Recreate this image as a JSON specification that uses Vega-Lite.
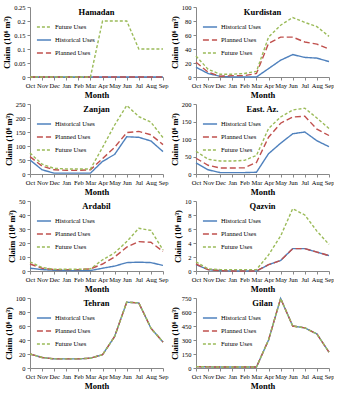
{
"$schema":"https://vega.github.io/schema/vega-lite/v6.json",
"padding":{"left":2,"top":4,"right":0,"bottom":0},
"background":"white",
"config":{
 "font":"Liberation Serif",
 "view":{"stroke":null},
 "axis":{"grid":false,"domainColor":"#888","tickColor":"#888","tickSize":3,"labelFontSize":6.5,"labelColor":"#000","titleFontSize":8.5,"titleFontWeight":"bold","titleColor":"#000","labelPadding":2,"titlePadding":2},
 "axisX":{"labelAngle":0,"labelOverlap":false},
 "title":{"fontSize":8.5,"fontWeight":"bold","offset":-12,"anchor":"middle","color":"#000"},
 "legend":{"labelFontSize":6.5,"symbolType":"stroke","symbolSize":200,"symbolStrokeWidth":1.4,"rowPadding":1,"padding":0,"labelOffset":3,"title":null},
 "line":{"strokeWidth":1.4},
 "concat":{"spacing":2}
},
"data":{"values":[
{"p":"Hamadan","m":"Oct","H":0,"P":0,"F":0},{"p":"Hamadan","m":"Nov","H":0,"P":0,"F":0},{"p":"Hamadan","m":"Dec","H":0,"P":0,"F":0},{"p":"Hamadan","m":"Jan","H":0,"P":0,"F":0},{"p":"Hamadan","m":"Feb","H":0,"P":0,"F":0},{"p":"Hamadan","m":"Mar","H":0,"P":0,"F":0},{"p":"Hamadan","m":"Apr","H":0,"P":0,"F":0.2},{"p":"Hamadan","m":"May","H":0,"P":0,"F":0.2},{"p":"Hamadan","m":"Jun","H":0,"P":0,"F":0.2},{"p":"Hamadan","m":"Jul","H":0,"P":0,"F":0.1},{"p":"Hamadan","m":"Aug","H":0,"P":0,"F":0.1},{"p":"Hamadan","m":"Sep","H":0,"P":0,"F":0.1},
{"p":"Kurdistan","m":"Oct","H":14,"P":21,"F":30},{"p":"Kurdistan","m":"Nov","H":5,"P":7,"F":11},{"p":"Kurdistan","m":"Dec","H":1,"P":1,"F":4},{"p":"Kurdistan","m":"Jan","H":0,"P":2,"F":4},{"p":"Kurdistan","m":"Feb","H":0,"P":2,"F":5},{"p":"Kurdistan","m":"Mar","H":0,"P":5,"F":8},{"p":"Kurdistan","m":"Apr","H":12,"P":48,"F":57},{"p":"Kurdistan","m":"May","H":24,"P":57,"F":74},{"p":"Kurdistan","m":"Jun","H":32,"P":57,"F":85},{"p":"Kurdistan","m":"Jul","H":28,"P":50,"F":78},{"p":"Kurdistan","m":"Aug","H":27,"P":47,"F":72},{"p":"Kurdistan","m":"Sep","H":22,"P":40,"F":58},
{"p":"Zanjan","m":"Oct","H":50,"P":62,"F":75},{"p":"Zanjan","m":"Nov","H":15,"P":28,"F":35},{"p":"Zanjan","m":"Dec","H":3,"P":15,"F":20},{"p":"Zanjan","m":"Jan","H":3,"P":13,"F":18},{"p":"Zanjan","m":"Feb","H":3,"P":13,"F":18},{"p":"Zanjan","m":"Mar","H":3,"P":15,"F":18},{"p":"Zanjan","m":"Apr","H":45,"P":55,"F":95},{"p":"Zanjan","m":"May","H":70,"P":95,"F":175},{"p":"Zanjan","m":"Jun","H":133,"P":148,"F":245},{"p":"Zanjan","m":"Jul","H":131,"P":152,"F":205},{"p":"Zanjan","m":"Aug","H":118,"P":140,"F":185},{"p":"Zanjan","m":"Sep","H":80,"P":105,"F":130},
{"p":"East Az.","m":"Oct","H":32,"P":45,"F":65},{"p":"East Az.","m":"Nov","H":12,"P":25,"F":42},{"p":"East Az.","m":"Dec","H":4,"P":17,"F":37},{"p":"East Az.","m":"Jan","H":4,"P":17,"F":37},{"p":"East Az.","m":"Feb","H":4,"P":18,"F":39},{"p":"East Az.","m":"Mar","H":5,"P":33,"F":53},{"p":"East Az.","m":"Apr","H":58,"P":105,"F":130},{"p":"East Az.","m":"May","H":88,"P":145,"F":163},{"p":"East Az.","m":"Jun","H":115,"P":163,"F":183},{"p":"East Az.","m":"Jul","H":120,"P":165,"F":188},{"p":"East Az.","m":"Aug","H":95,"P":128,"F":160},{"p":"East Az.","m":"Sep","H":78,"P":110,"F":130},
{"p":"Ardabil","m":"Oct","H":2,"P":5,"F":6.5},{"p":"Ardabil","m":"Nov","H":1,"P":2,"F":2.5},{"p":"Ardabil","m":"Dec","H":0.5,"P":1,"F":1.2},{"p":"Ardabil","m":"Jan","H":0.3,"P":1,"F":1.2},{"p":"Ardabil","m":"Feb","H":0.3,"P":1,"F":1.2},{"p":"Ardabil","m":"Mar","H":0.3,"P":1.5,"F":1.5},{"p":"Ardabil","m":"Apr","H":2,"P":5,"F":8},{"p":"Ardabil","m":"May","H":3.5,"P":10,"F":13},{"p":"Ardabil","m":"Jun","H":6,"P":17,"F":21},{"p":"Ardabil","m":"Jul","H":6.3,"P":21,"F":30.5},{"p":"Ardabil","m":"Aug","H":6,"P":20.5,"F":29},{"p":"Ardabil","m":"Sep","H":4,"P":14,"F":15},
{"p":"Qazvin","m":"Oct","H":0.9,"P":1.0,"F":1.3},{"p":"Qazvin","m":"Nov","H":0.2,"P":0.2,"F":0.3},{"p":"Qazvin","m":"Dec","H":0.05,"P":0.05,"F":0.2},{"p":"Qazvin","m":"Jan","H":0,"P":0,"F":0.2},{"p":"Qazvin","m":"Feb","H":0,"P":0,"F":0.2},{"p":"Qazvin","m":"Mar","H":0,"P":0,"F":0.2},{"p":"Qazvin","m":"Apr","H":0.9,"P":0.9,"F":2.3},{"p":"Qazvin","m":"May","H":1.5,"P":1.5,"F":5},{"p":"Qazvin","m":"Jun","H":3.2,"P":3.2,"F":8.9},{"p":"Qazvin","m":"Jul","H":3.2,"P":3.2,"F":8},{"p":"Qazvin","m":"Aug","H":2.7,"P":2.7,"F":5.7},{"p":"Qazvin","m":"Sep","H":2.2,"P":2.2,"F":3.8},
{"p":"Tehran","m":"Oct","H":20,"P":20,"F":20},{"p":"Tehran","m":"Nov","H":15,"P":15,"F":15},{"p":"Tehran","m":"Dec","H":13,"P":13,"F":13},{"p":"Tehran","m":"Jan","H":13,"P":13,"F":13},{"p":"Tehran","m":"Feb","H":13,"P":13,"F":13},{"p":"Tehran","m":"Mar","H":14,"P":14,"F":14},{"p":"Tehran","m":"Apr","H":19,"P":19,"F":19},{"p":"Tehran","m":"May","H":45,"P":45,"F":45},{"p":"Tehran","m":"Jun","H":94,"P":94,"F":94},{"p":"Tehran","m":"Jul","H":93,"P":93,"F":93},{"p":"Tehran","m":"Aug","H":57,"P":57,"F":57},{"p":"Tehran","m":"Sep","H":37,"P":37,"F":37},
{"p":"Gilan","m":"Oct","H":15,"P":15,"F":15},{"p":"Gilan","m":"Nov","H":12,"P":12,"F":12},{"p":"Gilan","m":"Dec","H":10,"P":10,"F":10},{"p":"Gilan","m":"Jan","H":10,"P":10,"F":10},{"p":"Gilan","m":"Feb","H":10,"P":10,"F":10},{"p":"Gilan","m":"Mar","H":10,"P":10,"F":10},{"p":"Gilan","m":"Apr","H":300,"P":300,"F":300},{"p":"Gilan","m":"May","H":745,"P":745,"F":745},{"p":"Gilan","m":"Jun","H":450,"P":450,"F":450},{"p":"Gilan","m":"Jul","H":430,"P":430,"F":430},{"p":"Gilan","m":"Aug","H":365,"P":365,"F":365},{"p":"Gilan","m":"Sep","H":170,"P":170,"F":170}
]},
"transform":[{"fold":["H","P","F"],"as":["s","v"]}],
"columns":2,
"resolve":{"scale":{"color":"independent","strokeDash":"independent","y":"independent","x":"independent"},"legend":{"color":"independent","strokeDash":"independent"}},
"concat":[
{"width":133,"height":70,"title":"Hamadan","transform":[{"filter":"datum.p === 'Hamadan'"}],"mark":"line",
 "encoding":{"x":{"field":"m","type":"ordinal","sort":["Oct","Nov","Dec","Jan","Feb","Mar","Apr","May","Jun","Jul","Aug","Sep"],"scale":{"type":"point","padding":0},"title":"Month"},
 "y":{"field":"v","type":"quantitative","scale":{"domain":[0,0.25]},"axis":{"values":[0,0.05,0.1,0.15,0.2,0.25],"format":"~g"},"title":"Claim (10⁶ m³)"},
 "color":{"field":"s","type":"nominal","scale":{"domain":["F","H","P"],"range":["#9BBB59","#4F81BD","#C0504D"]},"legend":{"orient":"none","legendX":6,"legendY":12,"labelExpr":"{'H':'Historical Uses','P':'Planned Uses','F':'Future Uses'}[datum.label]"}},
 "strokeDash":{"field":"s","type":"nominal","scale":{"domain":["F","H","P"],"range":[[3,2],[1,0],[6,3]]}}}},
{"width":133,"height":70,"title":"Kurdistan","transform":[{"filter":"datum.p === 'Kurdistan'"}],"mark":"line",
 "encoding":{"x":{"field":"m","type":"ordinal","sort":["Oct","Nov","Dec","Jan","Feb","Mar","Apr","May","Jun","Jul","Aug","Sep"],"scale":{"type":"point","padding":0},"title":"Month"},
 "y":{"field":"v","type":"quantitative","scale":{"domain":[0,100]},"axis":{"values":[0,20,40,60,80,100]},"title":"Claim (10⁶ m³)"},
 "color":{"field":"s","type":"nominal","scale":{"domain":["H","P","F"],"range":["#4F81BD","#C0504D","#9BBB59"]},"legend":{"orient":"none","legendX":6,"legendY":12,"labelExpr":"{'H':'Historical Uses','P':'Planned Uses','F':'Future Uses'}[datum.label]"}},
 "strokeDash":{"field":"s","type":"nominal","scale":{"domain":["H","P","F"],"range":[[1,0],[6,3],[3,2]]}}}},
{"width":133,"height":70,"title":"Zanjan","transform":[{"filter":"datum.p === 'Zanjan'"}],"mark":"line",
 "encoding":{"x":{"field":"m","type":"ordinal","sort":["Oct","Nov","Dec","Jan","Feb","Mar","Apr","May","Jun","Jul","Aug","Sep"],"scale":{"type":"point","padding":0},"title":"Month"},
 "y":{"field":"v","type":"quantitative","scale":{"domain":[0,250]},"axis":{"values":[0,50,100,150,200,250]},"title":"Claim (10⁶ m³)"},
 "color":{"field":"s","type":"nominal","scale":{"domain":["H","P","F"],"range":["#4F81BD","#C0504D","#9BBB59"]},"legend":{"orient":"none","legendX":6,"legendY":12,"labelExpr":"{'H':'Historical Uses','P':'Planned Uses','F':'Future Uses'}[datum.label]"}},
 "strokeDash":{"field":"s","type":"nominal","scale":{"domain":["H","P","F"],"range":[[1,0],[6,3],[3,2]]}}}},
{"width":133,"height":70,"title":"East. Az.","transform":[{"filter":"datum.p === 'East Az.'"}],"mark":"line",
 "encoding":{"x":{"field":"m","type":"ordinal","sort":["Oct","Nov","Dec","Jan","Feb","Mar","Apr","May","Jun","Jul","Aug","Sep"],"scale":{"type":"point","padding":0},"title":"Month"},
 "y":{"field":"v","type":"quantitative","scale":{"domain":[0,200]},"axis":{"values":[0,50,100,150,200]},"title":"Claim (10⁶ m³)"},
 "color":{"field":"s","type":"nominal","scale":{"domain":["H","P","F"],"range":["#4F81BD","#C0504D","#9BBB59"]},"legend":{"orient":"none","legendX":6,"legendY":12,"labelExpr":"{'H':'Historical Uses','P':'Planned Uses','F':'Future Uses'}[datum.label]"}},
 "strokeDash":{"field":"s","type":"nominal","scale":{"domain":["H","P","F"],"range":[[1,0],[6,3],[3,2]]}}}},
{"width":133,"height":70,"title":"Ardabil","transform":[{"filter":"datum.p === 'Ardabil'"}],"mark":"line",
 "encoding":{"x":{"field":"m","type":"ordinal","sort":["Oct","Nov","Dec","Jan","Feb","Mar","Apr","May","Jun","Jul","Aug","Sep"],"scale":{"type":"point","padding":0},"title":"Month"},
 "y":{"field":"v","type":"quantitative","scale":{"domain":[0,50]},"axis":{"values":[0,10,20,30,40,50]},"title":"Claim (10⁶ m³)"},
 "color":{"field":"s","type":"nominal","scale":{"domain":["H","P","F"],"range":["#4F81BD","#C0504D","#9BBB59"]},"legend":{"orient":"none","legendX":6,"legendY":12,"labelExpr":"{'H':'Historical Uses','P':'Planned Uses','F':'Future Uses'}[datum.label]"}},
 "strokeDash":{"field":"s","type":"nominal","scale":{"domain":["H","P","F"],"range":[[1,0],[6,3],[3,2]]}}}},
{"width":133,"height":70,"title":"Qazvin","transform":[{"filter":"datum.p === 'Qazvin'"}],"mark":"line",
 "encoding":{"x":{"field":"m","type":"ordinal","sort":["Oct","Nov","Dec","Jan","Feb","Mar","Apr","May","Jun","Jul","Aug","Sep"],"scale":{"type":"point","padding":0},"title":"Month"},
 "y":{"field":"v","type":"quantitative","scale":{"domain":[0,10]},"axis":{"values":[0,2,4,6,8,10]},"title":"Claim (10⁶ m³)"},
 "color":{"field":"s","type":"nominal","scale":{"domain":["H","P","F"],"range":["#4F81BD","#C0504D","#9BBB59"]},"legend":{"orient":"none","legendX":6,"legendY":12,"labelExpr":"{'H':'Historical Uses','P':'Planned Uses','F':'Future Uses'}[datum.label]"}},
 "strokeDash":{"field":"s","type":"nominal","scale":{"domain":["H","P","F"],"range":[[1,0],[6,3],[3,2]]}}}},
{"width":133,"height":70,"title":"Tehran","transform":[{"filter":"datum.p === 'Tehran'"}],"mark":"line",
 "encoding":{"x":{"field":"m","type":"ordinal","sort":["Oct","Nov","Dec","Jan","Feb","Mar","Apr","May","Jun","Jul","Aug","Sep"],"scale":{"type":"point","padding":0},"title":"Month"},
 "y":{"field":"v","type":"quantitative","scale":{"domain":[0,100]},"axis":{"values":[0,20,40,60,80,100]},"title":"Claim (10⁶ m³)"},
 "color":{"field":"s","type":"nominal","scale":{"domain":["H","P","F"],"range":["#4F81BD","#C0504D","#9BBB59"]},"legend":{"orient":"none","legendX":6,"legendY":12,"labelExpr":"{'H':'Historical Uses','P':'Planned Uses','F':'Future Uses'}[datum.label]"}},
 "strokeDash":{"field":"s","type":"nominal","scale":{"domain":["H","P","F"],"range":[[1,0],[6,3],[3,2]]}}}},
{"width":133,"height":70,"title":"Gilan","transform":[{"filter":"datum.p === 'Gilan'"}],"mark":"line",
 "encoding":{"x":{"field":"m","type":"ordinal","sort":["Oct","Nov","Dec","Jan","Feb","Mar","Apr","May","Jun","Jul","Aug","Sep"],"scale":{"type":"point","padding":0},"title":"Month"},
 "y":{"field":"v","type":"quantitative","scale":{"domain":[0,750]},"axis":{"values":[0,150,300,450,600,750]},"title":"Claim (10⁶ m³)"},
 "color":{"field":"s","type":"nominal","scale":{"domain":["H","P","F"],"range":["#4F81BD","#C0504D","#9BBB59"]},"legend":{"orient":"none","legendX":6,"legendY":12,"labelExpr":"{'H':'Historical Uses','P':'Planned Uses','F':'Future Uses'}[datum.label]"}},
 "strokeDash":{"field":"s","type":"nominal","scale":{"domain":["H","P","F"],"range":[[1,0],[6,3],[3,2]]}}}}
]
}
